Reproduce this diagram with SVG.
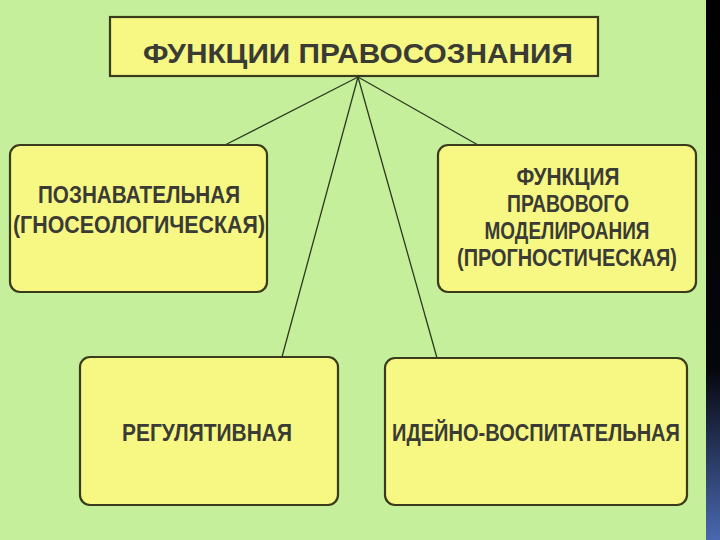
<svg xmlns="http://www.w3.org/2000/svg" width="720" height="540" viewBox="0 0 720 540">
<defs>
<linearGradient id="strip" x1="0" y1="0" x2="0" y2="1">
<stop offset="0" stop-color="#000000"/>
<stop offset="0.68" stop-color="#05060c"/>
<stop offset="1" stop-color="#4a68b0"/>
</linearGradient>
<style>
.box{fill:#f7f884;stroke:#3a3a1c;stroke-width:2.2}
.t{font-family:"Liberation Sans Narrow","Liberation Sans",Arial,sans-serif;font-weight:bold;fill:#3b3b35;text-anchor:middle;font-size:24px}
.title{font-size:28px}
.conn line{stroke:#2c3a20;stroke-width:1.3}
</style>
</defs>
<rect x="0" y="0" width="720" height="540" fill="#c6ef9c"/>
<rect x="706" y="0" width="14" height="540" fill="url(#strip)"/>
<g class="conn" id="connectors">
<line x1="358" y1="77" x2="225" y2="145"/>
<line x1="358" y1="77" x2="478" y2="145"/>
<line x1="358" y1="77" x2="282" y2="357"/>
<line x1="358" y1="77" x2="437" y2="358"/>
</g>
<g id="title">
<rect class="box" x="110" y="17" width="488" height="59"/>
<text class="t title" x="358" y="63" textLength="430" lengthAdjust="spacingAndGlyphs">ФУНКЦИИ  ПРАВОСОЗНАНИЯ</text>
</g>
<g id="node-cognitive">
<rect class="box" x="10" y="145" width="257" height="147" rx="10"/>
<text class="t" x="139" y="203" textLength="202" lengthAdjust="spacingAndGlyphs">ПОЗНАВАТЕЛЬНАЯ</text>
<text class="t" x="139" y="233" textLength="252" lengthAdjust="spacingAndGlyphs">(ГНОСЕОЛОГИЧЕСКАЯ)</text>
</g>
<g id="node-modeling">
<rect class="box" x="438" y="145" width="258" height="147" rx="10"/>
<text class="t" x="568" y="185" textLength="103" lengthAdjust="spacingAndGlyphs">ФУНКЦИЯ</text>
<text class="t" x="568" y="212" textLength="122" lengthAdjust="spacingAndGlyphs">ПРАВОВОГО</text>
<text class="t" x="567" y="239" textLength="165" lengthAdjust="spacingAndGlyphs">МОДЕЛИРОАНИЯ</text>
<text class="t" x="567" y="266" textLength="220" lengthAdjust="spacingAndGlyphs">(ПРОГНОСТИЧЕСКАЯ)</text>
</g>
<g id="node-regulative">
<rect class="box" x="80" y="357" width="258" height="148" rx="10"/>
<text class="t" x="207" y="441" textLength="170" lengthAdjust="spacingAndGlyphs">РЕГУЛЯТИВНАЯ</text>
</g>
<g id="node-educational">
<rect class="box" x="385" y="358" width="302" height="147" rx="10"/>
<text class="t" x="536" y="441" textLength="288" lengthAdjust="spacingAndGlyphs">ИДЕЙНО-ВОСПИТАТЕЛЬНАЯ</text>
</g>
</svg>
